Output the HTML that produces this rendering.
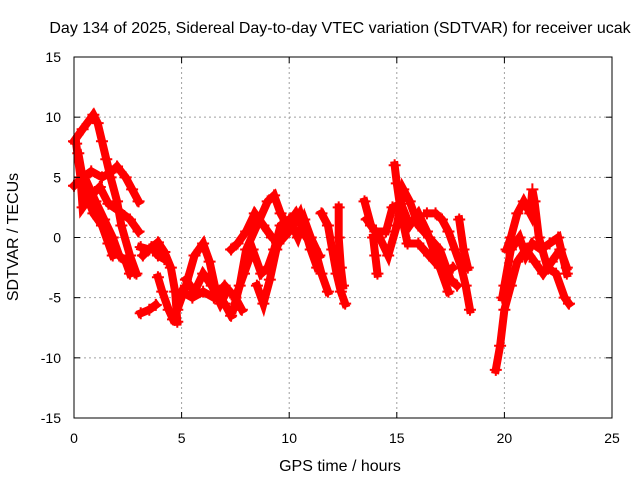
<!DOCTYPE html>
<html><head><meta charset="utf-8"><style>
body{margin:0;background:#fff}
svg{display:block;font-family:"Liberation Sans",sans-serif}
</style></head><body>
<svg id="c" width="640" height="480">
<text x="340" y="33" font-size="16" text-anchor="middle">Day 134 of 2025, Sidereal Day-to-day VTEC variation (SDTVAR) for receiver ucak</text>
<text x="340" y="471" font-size="16" text-anchor="middle">GPS time / hours</text>
<text transform="translate(18,237) rotate(-90)" font-size="16" text-anchor="middle">SDTVAR / TECUs</text>
<g id="grid"></g><g id="marks"></g><g id="axes"></g>
</svg>
<script>
const xTicks=[0,5,10,15,20,25];
const yTicks=[-15,-10,-5,0,5,10,15];
const track1=[[0,8],[0.4,9],[0.9,10.2],[1.1,9.5],[1.3,8],[1.5,6.5],[1.7,5],[2,3],[2.2,1],[2.6,-1.5],[2.9,-3]];
const track2=[[0,4.3],[0.4,5],[0.8,5.5],[1.3,5],[1.7,5.4],[2,5.9],[2.4,5],[2.7,4],[3,3]];
const track3=[[0.1,7.8],[0.3,5],[0.4,2.5],[0.8,3.5],[1.2,4.2],[1.6,2.8],[2.1,2.2],[2.6,1.5],[3,0.5]];
const track4=[[0.5,5],[1,3],[1.4,1.5],[1.8,0],[2.1,-1.5],[2.4,-2],[2.6,-3]];
const track4b=[[0.2,7],[0.5,4],[0.9,2],[1.3,1],[1.6,-0.5],[1.8,-1.5]];
const track5=[[3.1,-0.8],[3.5,-1],[3.9,-0.4],[4.2,-1.2],[4.5,-2.5],[4.7,-4.5],[4.8,-7]];
const track5b=[[3.2,-1.5],[3.6,-0.8],[3.9,-1.5],[4.2,-1.8]];
const track6=[[3.9,-3.3],[4.1,-4.5],[4.4,-6],[4.6,-6.8]];
const track7=[[3.1,-6.3],[3.5,-6],[3.8,-5.6]];
const track8=[[4.8,-6],[5.2,-4],[5.6,-1.5],[6,-0.5],[6.3,-2],[6.6,-4.5],[7,-5.5],[7.3,-6.5]];
const track9=[[5,-4.5],[5.5,-5],[6,-4.5],[6.5,-5],[7,-4],[7.5,-5],[7.8,-6]];
const track9b=[[5.2,-3.5],[5.6,-4.5],[6,-3],[6.4,-4],[6.8,-5.5],[7.1,-4.5]];
const track10=[[7.4,-6],[7.7,-4],[8,-1],[8.5,1],[9,3],[9.3,3.5],[9.6,2],[9.9,1],[10.3,2],[10.8,0],[11.2,-1],[11.5,-3],[11.8,-4.5]];
const track11=[[7.5,-5],[7.9,-3],[8.3,-1],[8.7,-3],[9,-2.5],[9.3,-1],[9.6,1],[10,1.5],[10.4,0],[10.7,1.5],[11,0],[11.4,-1.5]];
const track11b=[[7.3,-1],[7.6,-0.5],[8,0.5],[8.4,2],[8.8,1],[9.2,0],[9.5,-0.5],[10,0.5],[10.5,2],[11,-1],[11.3,-2.5]];
const track12=[[8.5,-4],[8.8,-5.5],[9.1,-3.5],[9.4,-1],[9.7,0.5]];
const track13=[[11.5,2],[11.8,1],[12,-1],[12.2,-3],[12.4,-4.5],[12.6,-5.5]];
const track14=[[12.3,2.5],[12.3,0],[12.4,-2.5],[12.5,-4]];
const track15=[[13.5,3],[13.8,1],[14.2,0],[14.6,-1.5],[15,1],[15.3,4],[15.6,3],[16,1],[16.5,0],[17,-1],[17.5,-3.5],[17.8,-4]];
const track16=[[14.9,6],[15,4.5],[15.2,2],[15.5,-0.5],[16,-0.5],[16.5,-1.5],[17,-2.5],[17.4,-4.5]];
const track16b=[[13.6,1.5],[14,0.5],[14.5,0.5],[14.8,2.5],[15.2,2.8],[15.6,1],[16,2],[16.4,0.5],[16.8,-1.5],[17.2,-3],[17.6,-2.5]];
const track17=[[16.4,2],[16.8,2],[17.1,1.5],[17.4,0.5],[17.7,-1],[18,-2.5],[18.2,-4],[18.4,-6]];
const track18=[[13.9,0],[14,-1.5],[14.1,-3]];
const track19=[[17.9,1.5],[18.1,-1],[18.3,-2.5]];
const track20=[[19.6,-11],[19.8,-9],[20,-6],[20.3,-4],[20.6,-2],[21,-1],[21.4,-2],[21.8,-3],[22.2,-2],[22.6,-1],[22.9,-2.5]];
const track21=[[19.9,-5],[20,-4],[20.3,-1],[20.7,0],[21,-1.5],[21.3,-0.5],[21.7,-1],[22.1,-0.5],[22.5,0],[22.9,-3]];
const track22=[[20.1,-1],[20.3,0],[20.6,2],[20.9,3],[21.2,2],[21.3,4],[21.4,3],[21.6,0],[22,-2.5],[22.4,-3],[22.8,-5],[23,-5.5]];
const tracks=[track1,track2,track3,track4,track4b,track5,track5b,track6,track7,track8,track9,track9b,track10,track11,track11b,track12,track13,track14,track15,track16,track16b,track17,track18,track19,track20,track21,track22];
const L=74,R=612,T=57,B=418;
const xS=v=>L+(v-0)/(25-0)*(R-L);
const yS=v=>B-(v+15)/30*(B-T);
const NS="http://www.w3.org/2000/svg";
function mk(t,p,a){const e=document.createElementNS(NS,t);for(const k in a)e.setAttribute(k,a[k]);p.appendChild(e);return e;}
const grid=document.getElementById('grid'),axes=document.getElementById('axes'),marks=document.getElementById('marks');
xTicks.forEach(v=>{const x=xS(v);
 if(v>0&&v<25){const g=mk('line',grid,{x1:x,x2:x,y1:T,y2:B,stroke:'#a0a0a0','stroke-dasharray':'2,3'});
 
 }
 mk('line',axes,{x1:x,x2:x,y1:B,y2:B-6,stroke:'#000'});mk('line',axes,{x1:x,x2:x,y1:T,y2:T+6,stroke:'#000'});
 const t=mk('text',axes,{x:x,y:443,'font-size':14,'text-anchor':'middle'});t.textContent=v;
 
 });
yTicks.forEach(v=>{const y=yS(v);
 if(v>-15&&v<15){const g=mk('line',grid,{x1:L,x2:R,y1:y,y2:y,stroke:'#a0a0a0','stroke-dasharray':'2,3'});
 
 }
 mk('line',axes,{x1:L,x2:L+6,y1:y,y2:y,stroke:'#000'});mk('line',axes,{x1:R,x2:R-6,y1:y,y2:y,stroke:'#000'});
 const t=mk('text',axes,{x:61,y:y+5,'font-size':14,'text-anchor':'end'});t.textContent=v;
 
 });
const fr=mk('rect',axes,{x:L,y:T,width:R-L,height:B-T,fill:'none',stroke:'#000'});


tracks.forEach((tr,i)=>{
 const pl=mk('polyline',marks,{points:tr.map(p=>xS(p[0])+','+yS(p[1])).join(' '),fill:'none',stroke:'#ff0000','stroke-width':8,'stroke-linejoin':'miter','stroke-linecap':'square'});
 
 
 tr.forEach(p=>{const x=xS(p[0]),y=yS(p[1]);
  const m=mk('path',marks,{d:`M${x-6},${y}H${x+6}M${x},${y-6}V${y+6}`,stroke:'#ff0000','stroke-width':2});
  
  });
});
</script>
</body></html>
